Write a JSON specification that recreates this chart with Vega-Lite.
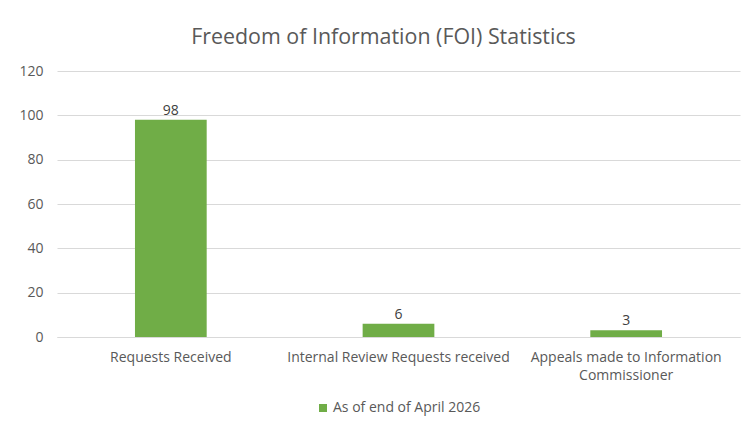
{
  "$schema": "https://vega.github.io/schema/vega-lite/v6.json",
  "autosize": "none",
  "width": 683,
  "height": 266,
  "padding": {"left": 57, "top": 71, "right": 9, "bottom": 93},
  "background": "white",
  "title": {
    "text": "Freedom of Information (FOI) Statistics",
    "fontSize": 21.4,
    "font": "Open Sans",
    "fontWeight": "normal",
    "color": "#595959",
    "anchor": "middle",
    "dx": -15,
    "offset": 16
  },
  "data": {
    "values": [
      {"category": "Requests Received", "value": 98, "series": "As of end of April 2026"},
      {"category": "Internal Review Requests received", "value": 6, "series": "As of end of April 2026"},
      {"category": "Appeals made to Information Commissioner", "value": 3, "series": "As of end of April 2026"}
    ]
  },
  "encoding": {
    "x": {
      "field": "category",
      "type": "nominal",
      "sort": null,
      "scale": {"paddingInner": 0, "paddingOuter": 0},
      "axis": {
        "title": null,
        "labelAngle": 0,
        "labelFont": "Open Sans",
        "labelFontSize": 14,
        "labelColor": "#595959",
        "labelPadding": 13,
        "labelLineHeight": 18,
        "labelLimit": 300,
        "labelExpr": "datum.value == 'Appeals made to Information Commissioner' ? ['Appeals made to Information', 'Commissioner'] : datum.value",
        "ticks": false,
        "domainColor": "#D9D9D9",
        "grid": false
      }
    },
    "y": {
      "field": "value",
      "type": "quantitative",
      "scale": {"domain": [0, 120]},
      "axis": {
        "title": null,
        "values": [0, 20, 40, 60, 80, 100, 120],
        "labelFont": "Open Sans",
        "labelFontSize": 14,
        "labelColor": "#595959",
        "labelPadding": 14,
        "ticks": false,
        "domain": false,
        "gridColor": "#D9D9D9"
      }
    }
  },
  "layer": [
    {
      "mark": {"type": "bar", "width": {"band": 0.315}},
      "encoding": {
        "color": {
          "field": "series",
          "type": "nominal",
          "scale": {"range": ["#70AD47"]},
          "legend": {
            "title": null,
            "orient": "bottom",
            "direction": "horizontal",
            "symbolType": "square",
            "symbolSize": 64,
            "symbolStrokeWidth": 0,
            "labelFont": "Open Sans",
            "labelFontSize": 14,
            "labelColor": "#595959",
            "labelOffset": 3,
            "offset": 19
          }
        }
      }
    },
    {
      "mark": {"type": "text", "dy": -9, "font": "Open Sans", "fontSize": 14, "color": "#404040"},
      "encoding": {"text": {"field": "value", "type": "quantitative"}}
    }
  ],
  "config": {
    "view": {"stroke": null},
    "legend": {"layout": {"bottom": {"anchor": "middle"}}}
  }
}
